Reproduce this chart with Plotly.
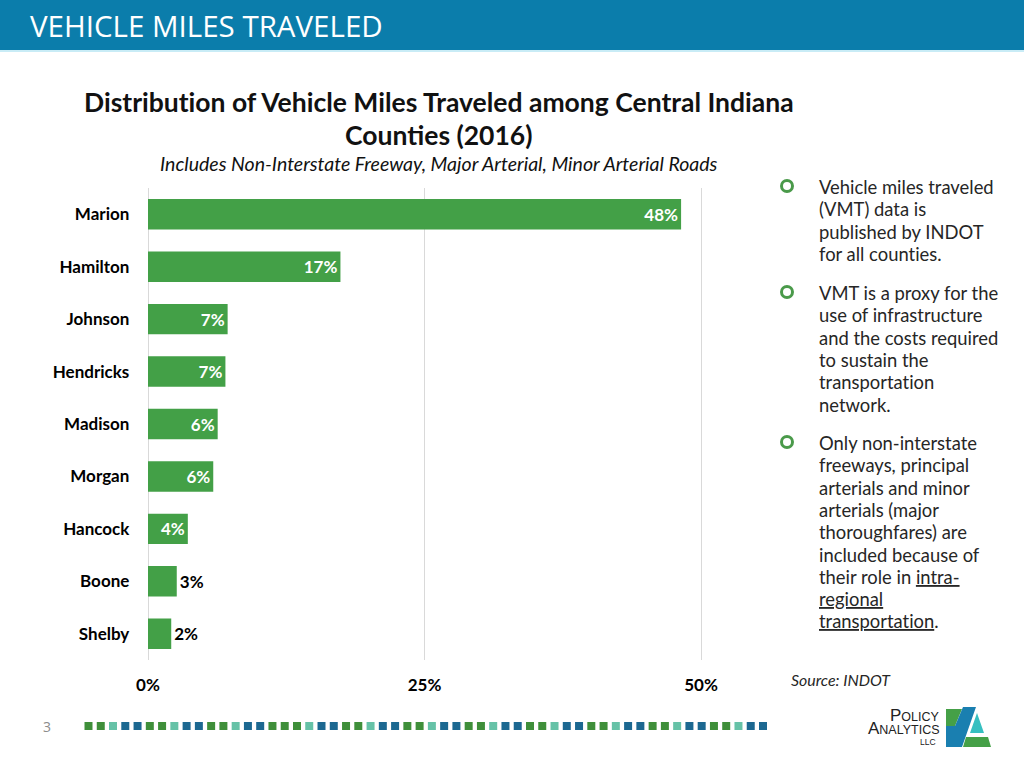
import plotly.graph_objects as go

# ---------------- data ----------------
counties = ["Marion", "Hamilton", "Johnson", "Hendricks", "Madison",
            "Morgan", "Hancock", "Boone", "Shelby"]
vmt_share = [48.2, 17.4, 7.2, 7.0, 6.3, 5.9, 3.6, 2.6, 2.1]
label_position = ["inside"] * 7 + ["outside"] * 2
x_tick_values = [0, 25, 50]
x_tick_labels = ["0%", "25%", "50%"]

U = "<span style='text-decoration:underline'>{}</span>"
bullet_texts = [
    ["Vehicle miles traveled", "(VMT) data is", "published by INDOT", "for all counties."],
    ["VMT is a proxy for the", "use of infrastructure", "and the costs required",
     "to sustain the", "transportation", "network."],
    ["Only non-interstate", "freeways, principal", "arterials and minor",
     "arterials (major", "thoroughfares) are", "included because of",
     "their role in " + U.format("intra-"),
     U.format("regional"),
     U.format("transportation") + "."],
]
bullet_first_line_y = [187, 293, 443]
LINE_GAP = 22.3

# decorative footer pattern (G = green, T = teal, B = blue)
footer_pattern = "GGTBBGGTBBGGTBBGGG" + "TBBGG" * 7 + "TBB"
footer_colors = {"G": "#3f8f3a", "T": "#66c2a7", "B": "#1c6891"}

# ---------------- helpers (pixel -> paper) ----------------
W, H = 1024, 768


def px(x):
    return x / W


def py(y):
    return 1 - y / H


def nolig(s):
    return "<span style='font-variant-ligatures:none'>" + s + "</span>"


GREEN = "#43a047"
TEXT = "#262626"

# axis: 0 -> 148px, 50 -> 701px ; small padding so edge gridlines show
X_MIN, X_MAX = -0.15, 50.15
PX_PER_UNIT = (701 - 148) / 50

fig = go.Figure(
    go.Bar(
        y=counties,
        x=vmt_share,
        orientation="h",
        marker=dict(color=GREEN, line=dict(width=0)),
        texttemplate="%{x:.0f}%",
        textposition=label_position,
        insidetextanchor="end",
        insidetextfont=dict(color="white", size=17, family="Lato", weight=700),
        outsidetextfont=dict(color="black", size=17, family="Lato", weight=700),
        constraintext="none",
        cliponaxis=False,
        width=0.58,
        hoverinfo="skip",
    )
)

fig.update_layout(
    width=W,
    height=H,
    margin=dict(l=0, r=0, t=0, b=0, autoexpand=False),
    paper_bgcolor="white",
    plot_bgcolor="white",
    showlegend=False,
    font=dict(family="Lato", color=TEXT),
    xaxis=dict(
        domain=[px(148 + X_MIN * PX_PER_UNIT), px(148 + X_MAX * PX_PER_UNIT)],
        range=[X_MIN, X_MAX],
        tickvals=x_tick_values,
        ticktext=x_tick_labels,
        showgrid=True,
        gridcolor="#d9d9d9",
        gridwidth=1,
        zeroline=False,
        showline=False,
        ticks="",
        tickfont=dict(family="Lato", size=17, color="black", weight=700),
        ticklabelstandoff=13,
        automargin=False,
        fixedrange=True,
    ),
    yaxis=dict(
        domain=[py(660), py(188)],
        autorange="reversed",
        showgrid=False,
        zeroline=False,
        showline=False,
        ticks="",
        tickfont=dict(family="Lato", size=17, color="black", weight=700),
        ticklabelstandoff=16,
        automargin=False,
        fixedrange=True,
    ),
)

shapes = []
annotations = []


def ann(text, x, y, size, color=TEXT, family="Lato", xanchor="left", weight=None, yanchor="middle"):
    f = dict(family=family, size=size, color=color)
    if weight:
        f["weight"] = weight
    annotations.append(dict(text=text, x=px(x), y=py(y), xref="paper", yref="paper",
                            xanchor=xanchor, yanchor=yanchor, showarrow=False, align="left",
                            font=f))


# header bar
shapes.append(dict(type="rect", xref="paper", yref="paper", x0=0, x1=1,
                   y0=py(50), y1=1, fillcolor="#0b7dab", line=dict(width=0), layer="below"))
shapes.append(dict(type="rect", xref="paper", yref="paper", x0=0, x1=1,
                   y0=py(52), y1=py(50), fillcolor="#c9ecf6", line=dict(width=0), layer="below"))
ann("VEHICLE MILES TRAVELED", 28, 25, 29.5, color="white", family="Open Sans")

# chart titles
ann(nolig("Distribution of Vehicle Miles Traveled among Central Indiana"), 439, 102, 26.5,
    color="#111111", xanchor="center", weight=700)
ann("Counties (2016)", 439, 135, 26.5, color="#111111", xanchor="center", weight=700)
ann("<i>Includes Non-Interstate Freeway, Major Arterial, Minor Arterial Roads</i>", 439, 164, 19.5,
    color="#111111", xanchor="center")

# bullets
for lines, y0 in zip(bullet_texts, bullet_first_line_y):
    shapes.append(dict(type="circle", xref="paper", yref="paper",
                       x0=px(781.5), x1=px(792.5), y0=py(y0 + 4.5), y1=py(y0 - 6.5),
                       line=dict(color="#4a9a4a", width=3), fillcolor="rgba(0,0,0,0)"))
    for k, line in enumerate(lines):
        ann(nolig(line), 817, y0 + k * LINE_GAP, 18.4)

# source
ann("<i>Source: INDOT</i>", 789, 679, 15.9)

# page number
ann("3", 47, 726, 14, color="#8c8c8c", family="Open Sans", xanchor="center")

# footer squares
pitch = (763 - 88.5) / (len(footer_pattern) - 1)
for i, c in enumerate(footer_pattern):
    cx = 88.5 + i * pitch
    shapes.append(dict(type="rect", xref="paper", yref="paper",
                       x0=px(cx - 4), x1=px(cx + 4), y0=py(730), y1=py(722),
                       fillcolor=footer_colors[c], line=dict(width=0)))

# logo text
ann("P<span style='font-size:12.5px'>OLICY</span>", 942, 715, 17, color="#222222",
    family="Liberation Sans", xanchor="right")
ann("A<span style='font-size:12.5px'>NALYTICS</span>", 942, 728, 17, color="#222222",
    family="Liberation Sans", xanchor="right")
ann("LLC", 938, 742, 8.5, color="#222222", family="Liberation Sans", xanchor="right")


# logo mark
def path(points):
    return "M " + " L ".join(f"{px(x):.5f},{py(y):.5f}" for x, y in points) + " Z"


shapes.append(dict(type="path", xref="paper", yref="paper",
                   path=path([(946, 709), (962, 709), (955, 726), (946, 726)]),
                   fillcolor="#45a047", line=dict(width=0)))
shapes.append(dict(type="path", xref="paper", yref="paper",
                   path=path([(946, 726), (955, 726), (963, 707), (976, 707), (962, 747), (946, 747)]),
                   fillcolor="#1a7fb0", line=dict(width=0)))
shapes.append(dict(type="path", xref="paper", yref="paper",
                   path=path([(977, 713), (984, 733), (970, 733)]),
                   fillcolor="#36bfc0", line=dict(width=0)))
shapes.append(dict(type="path", xref="paper", yref="paper",
                   path=path([(966, 737), (988, 737), (991, 747), (963, 747)]),
                   fillcolor="#45a047", line=dict(width=0)))

fig.update_layout(shapes=shapes, annotations=annotations)

fig.write_html(
    "out.html",
    config={"displayModeBar": False},
    post_script="document.body.style.margin='0';document.body.style.overflow='hidden';",
)
